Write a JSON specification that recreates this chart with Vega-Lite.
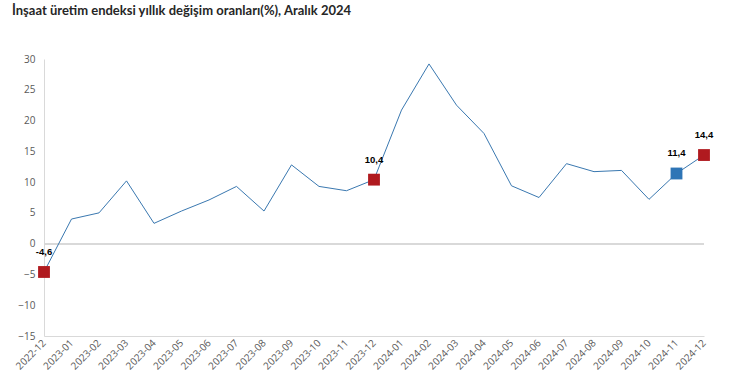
{
  "$schema": "https://vega.github.io/schema/vega-lite/v6.json",
  "autosize": {"type": "none"},
  "width": 660,
  "height": 277,
  "padding": {"left": 44, "top": 59, "right": 26, "bottom": 56},
  "background": "white",
  "title": {
    "text": "İnşaat üretim endeksi yıllık değişim oranları(%), Aralık 2024",
    "anchor": "start",
    "frame": "group",
    "dx": -32,
    "offset": 36,
    "fontSize": 13,
    "fontWeight": "bold",
    "font": "Lato",
    "color": "#262626"
  },
  "config": {
    "view": {"stroke": null},
    "font": "Open Sans"
  },
  "data": {
    "values": [
      {"month": "2022-12", "value": -4.6, "marker": "red", "label": "-4,6"},
      {"month": "2023-01", "value": 4.0},
      {"month": "2023-02", "value": 5.0},
      {"month": "2023-03", "value": 10.2},
      {"month": "2023-04", "value": 3.3},
      {"month": "2023-05", "value": 5.3},
      {"month": "2023-06", "value": 7.1},
      {"month": "2023-07", "value": 9.3},
      {"month": "2023-08", "value": 5.3},
      {"month": "2023-09", "value": 12.8},
      {"month": "2023-10", "value": 9.3},
      {"month": "2023-11", "value": 8.6},
      {"month": "2023-12", "value": 10.4, "marker": "red", "label": "10,4"},
      {"month": "2024-01", "value": 21.7},
      {"month": "2024-02", "value": 29.2},
      {"month": "2024-03", "value": 22.5},
      {"month": "2024-04", "value": 17.9},
      {"month": "2024-05", "value": 9.4},
      {"month": "2024-06", "value": 7.5},
      {"month": "2024-07", "value": 13.0},
      {"month": "2024-08", "value": 11.7},
      {"month": "2024-09", "value": 11.9},
      {"month": "2024-10", "value": 7.2},
      {"month": "2024-11", "value": 11.4, "marker": "blue", "label": "11,4"},
      {"month": "2024-12", "value": 14.4, "marker": "red", "label": "14,4"}
    ]
  },
  "encoding": {
    "x": {
      "field": "month",
      "type": "ordinal",
      "scale": {"type": "point", "padding": 0},
      "axis": {
        "title": null,
        "labelAngle": -45,
        "labelAlign": "right",
        "labelBaseline": "middle",
        "labelFontSize": 10,
        "labelColor": "#595959",
        "labelPadding": 5,
        "ticks": false,
        "domainColor": "#D9D9D9",
        "grid": false
      }
    },
    "y": {
      "field": "value",
      "type": "quantitative",
      "scale": {"domain": [-15, 30], "nice": false, "zero": false},
      "axis": {
        "title": null,
        "values": [-15, -10, -5, 0, 5, 10, 15, 20, 25, 30],
        "labelFontSize": 10,
        "labelColor": "#595959",
        "labelPadding": 9,
        "ticks": false,
        "domainColor": "#D9D9D9",
        "grid": false
      }
    }
  },
  "layer": [
    {
      "mark": {"type": "rule", "color": "#D9D9D9", "strokeWidth": 1},
      "encoding": {"y": {"datum": 0}, "x": {"value": 0}, "x2": {"value": 660}}
    },
    {
      "mark": {"type": "line", "color": "#3A78B0", "strokeWidth": 1}
    },
    {
      "transform": [{"filter": "datum.marker != null"}],
      "mark": {"type": "square", "size": 140, "opacity": 1, "filled": true},
      "encoding": {
        "color": {
          "field": "marker",
          "type": "nominal",
          "scale": {"domain": ["red", "blue"], "range": ["#B01A1F", "#2E75B6"]},
          "legend": null
        }
      }
    },
    {
      "transform": [{"filter": "datum.marker != null"}],
      "mark": {"type": "text", "dy": -20, "fontSize": 9.5, "fontWeight": "bold", "color": "#000000", "font": "Liberation Sans"},
      "encoding": {"text": {"field": "label"}}
    }
  ]
}
